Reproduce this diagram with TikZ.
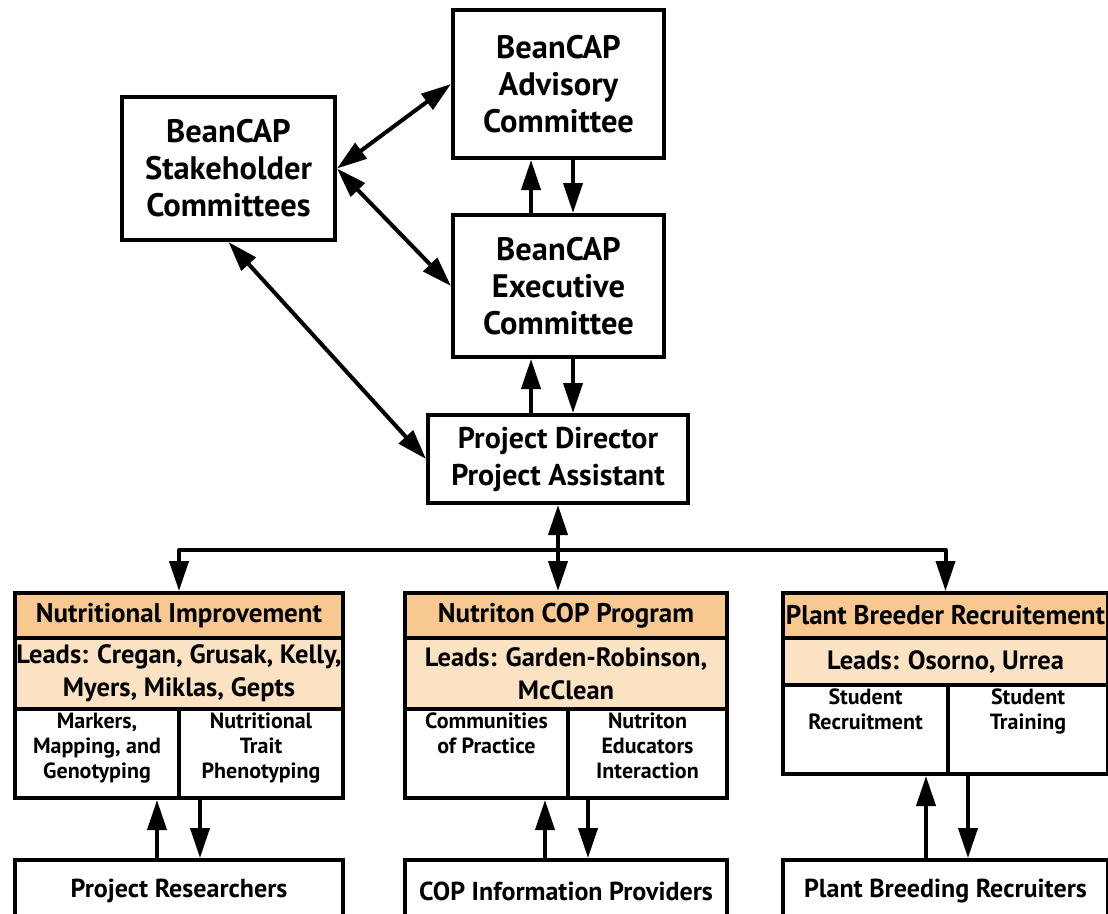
\documentclass[tikz,border=0pt]{standalone}
\usepackage{fontspec}
\setmainfont{PT Sans}
\usetikzlibrary{arrows.meta,calc}
\definecolor{hdr}{HTML}{F7C88F}
\definecolor{lds}{HTML}{FBE2C2}
\newcommand{\celltext}[3]{\parbox[c][#2][t]{#1}{\centering #3}}
\begin{document}
\begin{tikzpicture}[x=1pt,y=-1pt,
 box/.style={draw,line width=4pt,fill=white,inner sep=0pt,align=center,font=\bfseries\fontsize{32.5}{37}\selectfont},
 hdrbox/.style={draw,line width=4pt,fill=hdr,inner sep=0pt,align=center,anchor=north west,minimum height=45pt,font=\bfseries\fontsize{27}{28}\selectfont},
 leadbox/.style={draw,line width=4pt,fill=lds,inner sep=0pt,align=center,anchor=north west,font=\bfseries\fontsize{26.5}{33}\selectfont},
 cellbox/.style={draw,line width=4pt,fill=white,inner sep=4pt,anchor=north west,font=\bfseries\fontsize{22}{25}\selectfont},
 endbox/.style={draw,line width=4pt,fill=white,inner sep=0pt,anchor=north west,minimum height=62pt,font=\bfseries\fontsize{26}{28}\selectfont},
 link/.style={line width=4pt,line join=round},
 one/.style={link,-{Triangle[length=30pt,width=19pt]}},
 two/.style={link,{Triangle[length=30pt,width=19pt]}-{Triangle[length=30pt,width=19pt]}}
]
\useasboundingbox (0,0) rectangle (1108,913);
\fill[white] (0,0) rectangle (1108,913);

% top boxes
\node[box,minimum width=211pt,minimum height=148pt] (adv) at (558.5,84) {BeanCAP\\Advisory\\Committee};
\node[box,minimum width=213pt,minimum height=143pt] (stake) at (228.5,168.5) {BeanCAP\\Stakeholder\\Committees};
\node[box,minimum width=211pt,minimum height=142pt] (exec) at (558.5,286) {BeanCAP\\Executive\\Committee};
\node[box,minimum width=260pt,minimum height=88pt,font=\bfseries\fontsize{30}{37}\selectfont] (pd) at (558,459) {Project Director\\Project Assistant};

% Nutritional Improvement group
\node[hdrbox,minimum width=328pt] (nutH) at (13,591) {Nutritional Improvement};
\node[leadbox,minimum width=328pt,minimum height=71pt] (nutL) at (13,636) {Leads: Cregan, Grusak, Kelly,\\Myers, Miklas, Gepts};
\node[cellbox] (nutA) at (13,707) {\celltext{156pt}{81pt}{Markers,\\Mapping, and\\Genotyping}};
\node[cellbox] (nutB) at (177,707) {\celltext{156pt}{81pt}{Nutritional\\Trait\\Phenotyping}};

% COP group
\node[hdrbox,minimum width=322pt] (copH) at (403,591) {Nutriton COP Program};
\node[leadbox,minimum width=322pt,minimum height=71pt] (copL) at (403,636) {Leads: Garden-Robinson,\\McClean};
\node[cellbox] (copA) at (403,707) {\celltext{155pt}{81pt}{Communities\\of Practice}};
\node[cellbox] (copB) at (566,707) {\celltext{151pt}{81pt}{Nutriton\\Educators\\Interaction}};

% Plant breeder group
\node[hdrbox,minimum width=325pt] (plH) at (781,591) {Plant Breeder Recruitement};
\node[leadbox,minimum width=325pt,minimum height=47pt] (plL) at (781,636) {Leads: Osorno, Urrea};
\node[cellbox] (plA) at (781,683) {\celltext{157pt}{81pt}{Student\\Recruitment}};
\node[cellbox] (plB) at (946,683) {\celltext{152pt}{81pt}{Student\\Training}};

% bottom boxes
\node[endbox,minimum width=328pt] (res) at (13,858) {Project Researchers};
\node[endbox,minimum width=322pt] (cip) at (403,858) {COP Information Providers};
\node[endbox,minimum width=325pt] (pbr) at (781,858) {Plant Breeding Recruiters};

% connectors
\draw[two] (stake.east) -- (adv.west);
\draw[two] (stake.east) -- (exec.west);
\draw[two] (stake.south) -- (pd.west);
\draw[one] ([xshift=-27.5pt]exec.north) -- ([xshift=-27.5pt]adv.south);
\draw[one] ([xshift=14.5pt]adv.south) -- ([xshift=14.5pt]exec.north);
\draw[one] ([xshift=-27pt]pd.north) -- ([xshift=-27pt]pd.north |- exec.south);
\draw[one] ([xshift=15pt]pd.north |- exec.south) -- ([xshift=15pt]pd.north);

\coordinate (bus) at (557,550);
\draw[one] (bus) -| (nutH.north);
\draw[one] (bus) -| (plH.north);
\draw[two] (pd.south) -- (pd.south |- copH.north);

\draw[one] ([xshift=-22pt]res.north) -- ([xshift=-22pt]res.north |- nutA.south);
\draw[one] ([xshift=21pt]res.north |- nutA.south) -- ([xshift=21pt]res.north);
\draw[one] ([xshift=-21pt]cip.north) -- ([xshift=-21pt]cip.north |- copA.south);
\draw[one] ([xshift=22pt]cip.north |- copA.south) -- ([xshift=22pt]cip.north);
\draw[one] ([xshift=-19.5pt]pbr.north) -- ([xshift=-19.5pt]pbr.north |- plA.south);
\draw[one] ([xshift=22.5pt]pbr.north |- plA.south) -- ([xshift=22.5pt]pbr.north);
\end{tikzpicture}
\end{document}
